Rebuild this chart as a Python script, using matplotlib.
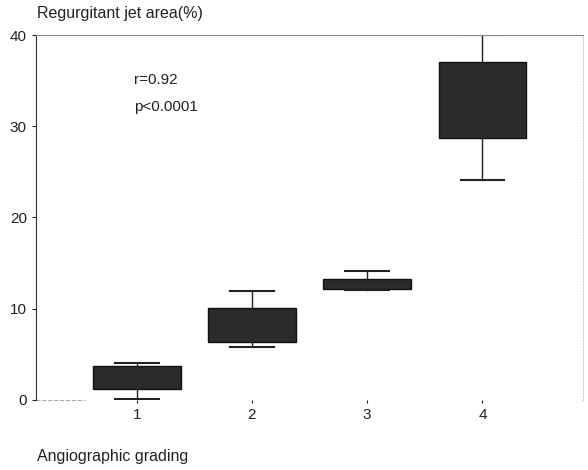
import matplotlib
matplotlib.use('Agg')
import matplotlib.pyplot as plt

plt.rcParams['font.family'] = ['Liberation Sans', 'DejaVu Sans']

# Datos
grados = [1, 2, 3, 4]
etiquetas = ['1', '2', '3', '4']
q1 = [1.2, 6.4, 12.2, 28.7]
q3 = [3.7, 10.1, 13.3, 37.0]
mediana = [2.5, 8.0, 12.8, 33.4]
bigote_inf = [0.1, 5.8, 12.0, 24.1]
bigote_sup = [4.0, 11.9, 14.1, 40.0]

stats = []
for i in range(len(grados)):
    stats.append({'med': mediana[i], 'q1': q1[i], 'q3': q3[i],
                  'whislo': bigote_inf[i], 'whishi': bigote_sup[i],
                  'label': etiquetas[i]})

fig = plt.figure(figsize=(5.88, 4.70), dpi=100)
ax = fig.add_axes([0.061, 0.149, 0.93, 0.7765])

ax.bxp(stats, positions=grados, widths=0.76, showfliers=False,
       patch_artist=True,
       boxprops=dict(facecolor='#2b2b2b', edgecolor='#111111', linewidth=1),
       whiskerprops=dict(color='#222222', linewidth=1),
       capprops=dict(color='#222222', linewidth=1.5),
       medianprops=dict(linewidth=0))

ax.set_xlim(0.125, 4.87)
ax.set_ylim(0, 40)
ax.set_yticks([0, 10, 20, 30, 40])
ax.set_xticks(grados)
ax.set_xticklabels(etiquetas)
ax.tick_params(axis='both', labelsize=11, length=3, width=0.8, colors='#222222')
ax.tick_params(axis='x', length=2, pad=4)

ax.spines['left'].set_color('#333333')
ax.spines['top'].set_color('#888888')
ax.spines['top'].set_linewidth(0.8)
ax.spines['right'].set_color('#cccccc')
ax.spines['right'].set_linestyle(':')
ax.spines['bottom'].set_visible(False)
ax.plot([0.125, 0.55], [0, 0], color='#aaaaaa', linewidth=0.8, linestyle='--', clip_on=False)

ax.text(0.98, 35.1, 'r=0.92', fontsize=11, color='#222222', va='center')
ax.text(0.98, 32.1, 'p<0.0001', fontsize=11, color='#222222', va='center')

fig.text(0.063, 0.962, 'Regurgitant jet area(%)', fontsize=11.5, color='#222222')
fig.text(0.063, 0.02, 'Angiographic grading', fontsize=11.5, color='#222222')

plt.savefig('out.png', dpi=100)
